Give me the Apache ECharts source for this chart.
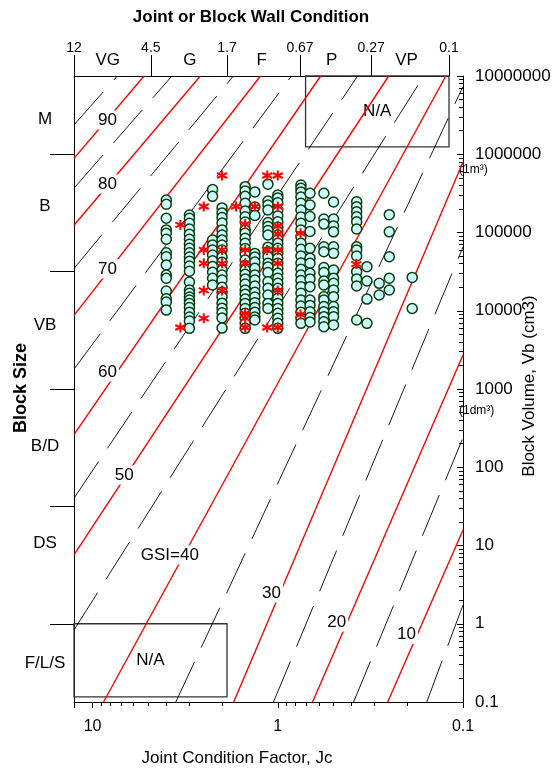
<!DOCTYPE html>
<html><head><meta charset="utf-8">
<script src="https://cdn.jsdelivr.net/npm/echarts@6/dist/echarts.min.js"></script>
<style>html,body{margin:0;padding:0;background:#fff}#c{width:554px;height:769px}</style>
</head><body><div id="c"></div>
<script>
// ---------------- DATA ----------------
// GSI contour lines (solid red), each from start [Jc, Vb] to end [Jc, Vb]
const gsiRedValues = [90, 80, 70, 60, 50, 40, 30, 20, 10];
const gsiRedStart = [[12.6, 8.85e5], [12.6, 1.24e5], [12.6, 8720], [12.6, 261], [12.6, 7.58], [8.73, 0.1], [1.73, 0.1], [0.649, 0.1], [0.255, 0.1]];
const gsiRedEnd   = [[5.27, 1e7], [2.62, 1e7], [1.24, 1e7], [0.587, 1e7], [0.252, 1e7], [0.1238, 1e7], [0.1, 7.96e5], [0.1, 2720], [0.1, 15.8]];
// intermediate GSI lines (dashed black)
const gsiDashValues = [95, 85, 75, 65, 55, 45, 35, 25, 15, 5];
const gsiDashStart = [[12.6, 2.37e6], [12.6, 3.68e5], [12.6, 3.47e4], [12.6, 1795], [12.6, 40.3], [12.6, 0.832], [3.554, 0.1], [1.055, 0.1], [0.3895, 0.1], [0.1569, 0.1]];
const gsiDashEnd   = [[7.35, 1e7], [3.73, 1e7], [1.737, 1e7], [0.843, 1e7], [0.3706, 1e7], [0.1628, 1e7], [0.1, 7.35e6], [0.1, 6.53e4], [0.1, 238.6], [0.1, 1.736]];

// GSI labels
const gsiLabelText = ['90', '80', '70', '60', '50', 'GSI=40', '30', '20', '10'];
const gsiLabelJc = [8.31, 8.31, 8.31, 8.31, 6.75, 3.83, 1.082, 0.481, 0.202];
const gsiLabelVb = [2.74e6, 4.17e5, 3.42e4, 1650, 79.6, 7.55, 2.47, 1.05, 0.728];

// Field data: circles, grouped in columns of equal Jc
const circleJc = [4.0, 3.0, 2.25, 2.0, 1.5, 1.33, 1.13, 1.0, 0.75, 0.67, 0.564, 0.50, 0.375, 0.33, 0.2835, 0.25, 0.188];
const circleVb = [
  [2.60e5, 2.30e5, 1.52e5, 1.08e5, 9.76e4, 8.2e4, 5.5e4, 4.90e4, 3.84e4, 2.86e4, 2.60e4, 1.79e4, 1.42e4, 1.29e4, 1.02e4],
  [1.67e5, 1.52e5, 1.31e5, 1.11e5, 9.5e4, 8.2e4, 7.1e4, 6.28e4, 5.5e4, 4.87e4, 4.3e4, 3.72e4, 3.2e4, 2.33e4, 1.84e4, 1.67e4, 1.50e4, 1.37e4, 1.24e4, 1.10e4, 9.6e3, 8.3e3, 7.4e3, 5.96e3],
  [3.55e5, 2.9e5, 8.02e4, 6.92e4, 5.97e4, 5.15e4, 4.35e4, 3.68e4, 3.1e4, 2.6e4, 2.13e4],
  [2.06e5, 1.78e5, 1.55e5, 1.32e5, 1.08e5, 9.29e4, 8.02e4, 6.92e4, 5.97e4, 4.85e4, 4.17e4, 3.31e4, 2.86e4, 2.47e4, 2.0e4, 1.72e4, 1.5e4, 1.25e4, 1.08e4, 9.4e3, 8.1e3, 6.0e3],
  [3.85e5, 3.4e5, 2.9e5, 2.36e5, 1.88e5, 1.59e5, 1.36e5, 1.08e5, 9.76e4, 8.43e4, 7.28e4, 6.25e4, 5.4e4, 4.45e4, 3.8e4, 3.31e4, 2.93e4, 2.55e4, 2.2e4, 1.84e4, 1.63e4, 1.41e4, 1.24e4, 1.07e4, 9.3e3, 8.1e3, 6.9e3, 5.96e3],
  [3.3e5, 2.12e5, 1.65e5, 5.4e4, 4.87e4, 4.2e4, 3.5e4, 2.86e4, 2.47e4, 2.07e4, 1.72e4, 1.5e4, 1.27e4, 1.10e4, 9.6e3, 8.3e3, 7.61e3],
  [4.15e5, 2.52e5, 2.24e5, 1.94e5, 1.34e5, 1.19e5, 1.06e5, 9.29e4, 6.5e4, 5.68e4, 4.90e4, 4.04e4, 3.63e4, 3.08e4, 2.35e4, 1.94e4, 1.59e4, 1.24e4, 1.07e4],
  [3.01e5, 2.76e5, 2.4e5, 1.94e5, 1.62e5, 1.37e5, 1.17e5, 1.04e5, 9.29e4, 8.2e4, 7.28e4, 6.28e4, 5.42e4, 4.68e4, 4.04e4, 3.48e4, 3.01e4, 2.6e4, 2.24e4, 1.94e4, 1.67e4, 1.44e4, 1.24e4, 1.07e4, 9.3e3, 8.0e3, 6.9e3, 5.96e3],
  [4.04e5, 3.67e5, 3.3e5, 2.85e5, 2.36e5, 1.94e5, 1.58e5, 1.31e5, 1.08e5, 8.8e4, 7.28e4, 6.1e4, 5.0e4, 4.07e4, 3.4e4, 2.86e4, 2.43e4, 2.03e4, 1.67e4, 1.37e4, 1.15e4, 9.6e3, 8.0e3, 6.9e3],
  [3.17e5, 2.24e5, 1.6e5, 1.03e5, 6.28e4, 4.7e4, 4.04e4, 3.01e4, 2.55e4, 2.03e4, 1.37e4, 1.17e4, 9.7e3, 8.2e3, 7.2e3],
  [3.17e5, 1.49e5, 1.28e5, 6.58e4, 5.68e4, 3.57e4, 3.08e4, 2.4e4, 2.13e4, 1.51e4, 1.37e4, 1.13e4, 9.7e3, 8.4e3, 7.24e3, 6.25e3],
  [2.45e5, 1.49e5, 1.21e5, 1.02e5, 6.58e4, 5.42e4, 3.31e4, 2.6e4, 2.24e4, 1.84e4, 1.51e4, 1.13e4, 9.7e3, 8.4e3, 6.57e3],
  [2.47e5, 2.13e5, 1.84e5, 1.59e5, 1.37e5, 1.11e5, 6.58e4, 5.97e4, 5.0e4, 3.16e4, 2.55e4, 2.07e4, 7.61e3],
  [3.66e4, 2.4e4, 1.41e4, 6.9e3],
  [2.24e4, 1.59e4],
  [1.69e5, 1.02e5, 4.90e4, 2.6e4, 1.84e4],
  [2.67e4, 1.07e4]
];

// Field data: asterisks
const starJc = [2.0, 1.14, 1.0, 2.51, 1.68, 1.33, 1.0, 3.36, 1.5, 1.0, 1.0, 0.754, 2.51, 2.0, 1.5, 1.14, 1.0, 2.51, 2.0, 1.5, 1.0, 0.377, 2.51, 2.0, 1.0, 1.5, 0.754, 2.51, 1.5, 3.36, 1.5, 1.14, 1.0];
const starVb = [5.35e5, 5.35e5, 5.35e5, 2.15e5, 2.15e5, 2.15e5, 2.15e5, 1.25e5, 1.28e5, 1.21e5, 9.57e4, 9.77e4, 5.98e4, 5.98e4, 5.98e4, 5.98e4, 5.98e4, 4.04e4, 4.04e4, 4.04e4, 4.04e4, 3.95e4, 1.82e4, 1.82e4, 1.82e4, 9.22e3, 8.96e3, 8.0e3, 8.0e3, 6.11e3, 6.11e3, 6.11e3, 6.11e3];

// N/A boxes: [corner1 [Jc, Vb], corner2 [Jc, Vb]]
const naBoxes = [[[0.708, 1.24e6], [0.119, 1e7]], [[12.6, 0.116], [1.88, 1.0]]];

// Top axis: joint or block wall condition
const topTickJc = [12, 4.5, 1.7, 0.67, 0.27, 0.1];
const topTickText = ['12', '4.5', '1.7', '0.67', '0.27', '0.1'];
const conditionNames = ['VG', 'G', 'F', 'P', 'VP'];
const conditionJc = [7.8, 2.73, 1.093, 0.447, 0.172];

// Left axis: block size classes
const blockTickVb = [1e6, 31623, 1000, 31.62, 1];
const blockNames = ['M', 'B', 'VB', 'B/D', 'DS', 'F/L/S'];
const blockLabelVb = [2.79e6, 2.13e5, 6560, 183, 10.7, 0.315];

// Axis ranges
const jcMin = 0.1, jcMax = 12.6, topJcMax = 12;
const vbMin = 0.1, vbMax = 1e7;

// ---------------- CHART ----------------
const FONT = 'Liberation Sans, Arial, Helvetica, sans-serif';
const minorJc = [];
[0.1, 1].forEach(d => { for (let k = 2; k <= 9; k++) minorJc.push(+(k * d).toPrecision(3)); });
const minorVb = [];
for (let e = -1; e < 7; e++) { for (let k = 2; k <= 9; k++) minorVb.push(+(k * Math.pow(10, e)).toPrecision(3)); }

function nearest(v, vals, names) {
  let best = 0, bd = Infinity;
  for (let i = 0; i < vals.length; i++) {
    const d = Math.abs(Math.log10(v) - Math.log10(vals[i]));
    if (d < bd) { bd = d; best = i; }
  }
  return names[best];
}
function clampIn(v, lo, hi) { return Math.min(Math.max(v, lo * 1.00001), hi * 0.99999); }

const series = [];
gsiRedValues.forEach((g, i) => {
  series.push({ type: 'line', name: 'GSI ' + g, xAxisIndex: 0, yAxisIndex: 0,
    data: [gsiRedStart[i], gsiRedEnd[i]], showSymbol: false, symbol: 'none',
    lineStyle: { color: '#ff0000', width: 1.4 }, silent: true, z: 2 });
});
gsiDashValues.forEach((g, i) => {
  series.push({ type: 'line', name: 'GSI ' + g, xAxisIndex: 0, yAxisIndex: 0,
    data: [gsiDashStart[i], gsiDashEnd[i]], showSymbol: false, symbol: 'none',
    lineStyle: { color: '#000', width: 0.9, type: [44, 16] }, silent: true, z: 2 });
});
series.push({ type: 'scatter', xAxisIndex: 0, yAxisIndex: 0, data: [], silent: true, z: 3,
  markArea: { silent: true,
    itemStyle: { color: 'rgba(0,0,0,0)', borderColor: '#333', borderWidth: 1.3 },
    label: { show: true, position: 'inside', fontSize: 17, color: '#000', fontFamily: FONT },
    data: naBoxes.map(b => [{ name: 'N/A', coord: b[0] }, { coord: b[1] }]) } });
series.push({ type: 'scatter', xAxisIndex: 0, yAxisIndex: 0, silent: true, z: 4,
  data: gsiLabelText.map((t, i) => ({ name: t, value: [gsiLabelJc[i], gsiLabelVb[i]] })),
  symbol: 'circle', symbolSize: 1, itemStyle: { color: '#ffffff', opacity: 1 },
  label: { show: true, position: 'inside', formatter: '{b}', fontSize: 17, color: '#000000',
    opacity: 1, textBorderWidth: 0, fontFamily: FONT, backgroundColor: '#fff', padding: [1, 2] } });
const circleData = [];
circleJc.forEach((jc, i) => circleVb[i].forEach(vb => circleData.push([jc, vb])));
series.push({ type: 'scatter', xAxisIndex: 0, yAxisIndex: 0, data: circleData, silent: true, z: 5,
  symbol: 'circle', symbolSize: 10,
  itemStyle: { color: '#ccffff', borderColor: '#0a3a0a', borderWidth: 1.5, opacity: 1 } });
series.push({ type: 'scatter', xAxisIndex: 0, yAxisIndex: 0, silent: true, z: 6,
  data: starJc.map((jc, i) => [jc, starVb[i]]),
  symbol: 'path://M5,0L5,10M0.67,2.5L9.33,7.5M0.67,7.5L9.33,2.5', symbolSize: 10,
  itemStyle: { color: 'rgba(0,0,0,0)', borderColor: '#ff0000', borderWidth: 2, opacity: 1 } });

const axisLineStyle = { show: true, onZero: false, lineStyle: { color: '#000', width: 1 } };
const option = {
  animation: false,
  backgroundColor: '#fff',
  textStyle: { fontFamily: FONT },
  grid: [
    { left: 74, right: 91, top: 76, bottom: 67 },
    { left: 74, right: 105, top: 76, bottom: 67 }
  ],
  xAxis: [
    { gridIndex: 0, type: 'log', inverse: true, min: jcMin, max: jcMax, position: 'bottom',
      axisLine: axisLineStyle, splitLine: { show: false },
      axisTick: { show: true, length: 6, lineStyle: { color: '#000' } },
      axisLabel: { fontSize: 16, color: '#000', margin: 17, fontFamily: FONT,
        formatter: v => { const l = Math.log10(v); if (Math.abs(l - Math.round(l)) > 0.01) return ''; return l < 0 ? '0.1' : String(Math.round(Math.pow(10, Math.round(l)))); } } },
    { gridIndex: 0, type: 'log', inverse: true, min: jcMin, max: jcMax, position: 'bottom',
      axisLine: { show: false }, splitLine: { show: false }, axisLabel: { show: false },
      axisTick: { show: true, length: 4, customValues: minorJc, lineStyle: { color: '#000' } } },
    { gridIndex: 1, type: 'log', inverse: true, min: jcMin, max: topJcMax, position: 'top',
      axisLine: axisLineStyle, splitLine: { show: false },
      axisTick: { show: true, length: 21, customValues: topTickJc.map(v => clampIn(v, jcMin, topJcMax)), lineStyle: { color: '#000' } },
      axisLabel: { show: true, fontSize: 14, color: '#000', margin: 21, fontFamily: FONT,
        customValues: topTickJc.map(v => clampIn(v, jcMin, topJcMax)),
        formatter: v => nearest(v, topTickJc, topTickText) } },
    { gridIndex: 1, type: 'log', inverse: true, min: jcMin, max: topJcMax, position: 'top',
      axisLine: { show: false }, splitLine: { show: false }, axisTick: { show: false },
      axisLabel: { show: true, fontSize: 17, color: '#000', margin: 7, fontFamily: FONT,
        customValues: conditionJc, formatter: v => nearest(v, conditionJc, conditionNames) } }
  ],
  yAxis: [
    { gridIndex: 0, type: 'log', min: vbMin, max: vbMax, position: 'right',
      axisLine: axisLineStyle, splitLine: { show: false },
      axisTick: { show: true, inside: true, length: 6, lineStyle: { color: '#000' } },
      axisLabel: { fontSize: 17, color: '#000', margin: 12, fontFamily: FONT,
        formatter: v => v >= 1 ? String(Math.round(v)) : '0.1' } },
    { gridIndex: 0, type: 'log', min: vbMin, max: vbMax, position: 'right',
      axisLine: { show: false }, splitLine: { show: false }, axisLabel: { show: false },
      axisTick: { show: true, inside: true, length: 4, customValues: minorVb, lineStyle: { color: '#000' } } },
    { gridIndex: 0, type: 'log', min: vbMin, max: vbMax, position: 'left',
      axisLine: axisLineStyle, splitLine: { show: false },
      axisTick: { show: true, length: 24, customValues: blockTickVb, lineStyle: { color: '#000' } },
      axisLabel: { show: true, fontSize: 17, color: '#000', margin: 29, align: 'center', fontFamily: FONT,
        customValues: blockLabelVb, formatter: v => nearest(v, blockLabelVb, blockNames) } },
    { gridIndex: 1, type: 'log', min: vbMin, max: vbMax, show: false }
  ],
  graphic: [
    { type: 'text', x: 251, y: 17, silent: true,
      style: { text: 'Joint or Block Wall Condition', font: 'bold 17px ' + FONT, fill: '#000', textAlign: 'center', textVerticalAlign: 'middle', align: 'center', verticalAlign: 'middle' } },
    { type: 'text', x: 237, y: 758, silent: true,
      style: { text: 'Joint Condition Factor, Jc', font: '17px ' + FONT, fill: '#000', textAlign: 'center', textVerticalAlign: 'middle', align: 'center', verticalAlign: 'middle' } },
    { type: 'text', x: 21, y: 388, rotation: Math.PI / 2, silent: true,
      style: { text: 'Block Size', font: 'bold 18px ' + FONT, fill: '#000', textAlign: 'center', textVerticalAlign: 'middle', align: 'center', verticalAlign: 'middle' } },
    { type: 'text', x: 529, y: 386, rotation: Math.PI / 2, silent: true,
      style: { text: 'Block Volume, Vb (cm3)', font: '17px ' + FONT, fill: '#000', textAlign: 'center', textVerticalAlign: 'middle', align: 'center', verticalAlign: 'middle' } },
    { type: 'text', x: 459, y: 170, silent: true,
      style: { text: '(1m³)', font: '12px ' + FONT, fill: '#000', textAlign: 'left', textVerticalAlign: 'middle', align: 'left', verticalAlign: 'middle' } },
    { type: 'text', x: 459, y: 411, silent: true,
      style: { text: '(1dm³)', font: '12px ' + FONT, fill: '#000', textAlign: 'left', textVerticalAlign: 'middle', align: 'left', verticalAlign: 'middle' } }
  ],
  series: series
};
const chart = echarts.init(document.getElementById('c'), null, { renderer: 'canvas', width: 554, height: 769 });
chart.setOption(option);
</script>
</body></html>
